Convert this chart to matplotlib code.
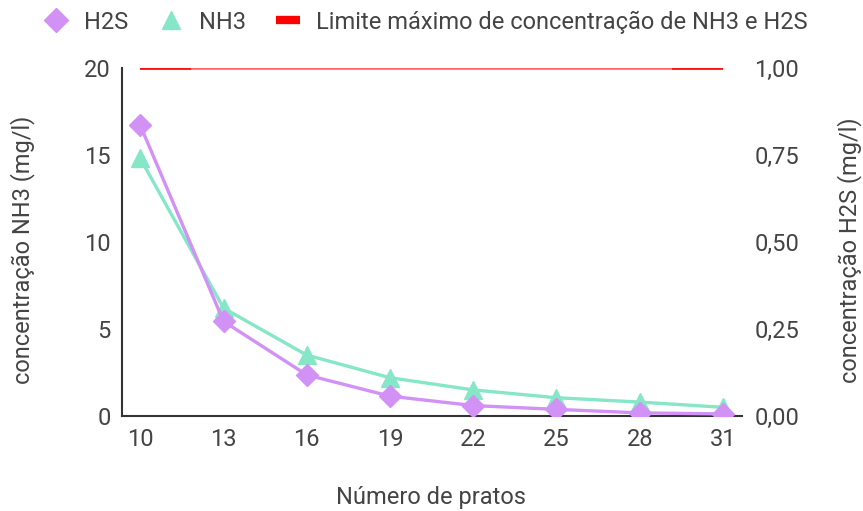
import matplotlib.pyplot as plt
import matplotlib.lines as mlines
from matplotlib.ticker import FuncFormatter
import numpy as np

# Número de pratos e concentrações
pratos = [10, 13, 16, 19, 22, 25, 28, 31]
nh3 = [14.8, 6.2, 3.5, 2.2, 1.5, 1.05, 0.8, 0.5]
h2s = [0.835, 0.272, 0.118, 0.057, 0.030, 0.019, 0.009, 0.006]
limite_nh3 = 20
limite_h2s = 1.0

cor_h2s = "#d291f5"
cor_nh3 = "#86e6c8"
cor_limite = "#ff0000"
cor_texto = "#444444"
fs = 17

plt.rcParams["font.family"] = ["Roboto", "DejaVu Sans"]

fig = plt.figure(figsize=(8.63, 5.11), dpi=100)
ax = fig.add_axes([122 / 863, 1 - 416 / 511, 620 / 863, 348 / 511])
ax2 = ax.twinx()

x = np.arange(len(pratos))

# limite máximo (linha clara com trechos mais fortes nas pontas)
ax.plot([x[0], x[-1]], [limite_nh3, limite_nh3], color=cor_limite, alpha=0.6,
        lw=2.6, solid_capstyle="butt", zorder=2)
ax.plot([x[0], x[0] + 0.61], [limite_nh3, limite_nh3], color=cor_limite, alpha=0.85,
        lw=2.6, solid_capstyle="butt", zorder=2)
ax2.plot([x[-1] - 0.61, x[-1]], [limite_h2s, limite_h2s], color=cor_limite, alpha=0.85,
         lw=2.6, solid_capstyle="butt", zorder=2)

ax.plot(x, nh3, color=cor_nh3, lw=2.4, marker="^", ms=13, zorder=3)
ax2.plot(x, h2s, color=cor_h2s, lw=2.4, marker="D", ms=11, zorder=4)

ax.set_xlim(-0.22, 7.23)
ax.set_ylim(0, 20)
ax2.set_ylim(0, 1.0)
ax.set_xticks(x)
ax.set_xticklabels([str(p) for p in pratos])
ax.set_yticks([0, 5, 10, 15, 20])
ax2.set_yticks([0, 0.25, 0.5, 0.75, 1.0])
ax2.yaxis.set_major_formatter(FuncFormatter(lambda v, p: f"{v:.2f}".replace(".", ",")))

for a in (ax, ax2):
    for s in ("top", "right"):
        a.spines[s].set_visible(False)
    a.tick_params(length=0, labelsize=fs, labelcolor=cor_texto)
ax2.spines["left"].set_visible(False)
ax2.spines["bottom"].set_visible(False)
ax.spines["left"].set_color("#333333")
ax.spines["bottom"].set_color("#333333")
ax.spines["left"].set_linewidth(1.5)
ax.spines["bottom"].set_linewidth(1.5)
ax.tick_params(axis="x", pad=9)
ax.tick_params(axis="y", pad=8)
ax2.tick_params(axis="y", pad=9)

fig.text(23 / 863, 1 - 250 / 511, "concentração NH3 (mg/l)", rotation=90,
         ha="center", va="center", fontsize=fs, color=cor_texto)
fig.text(850 / 863, 1 - 250 / 511, "concentração H2S (mg/l)", rotation=90,
         ha="center", va="center", fontsize=fs, color=cor_texto)
fig.text(431 / 863, 1 - 497 / 511, "Número de pratos", ha="center", va="center",
         fontsize=fs, color=cor_texto)

handles = [
    mlines.Line2D([], [], color=cor_h2s, marker="D", ms=12, ls="none"),
    mlines.Line2D([], [], color=cor_nh3, marker="^", ms=13, ls="none"),
    mlines.Line2D([], [], color=cor_limite, lw=6, solid_capstyle="butt"),
]
labels = ["H2S", "NH3", "Limite máximo de concentração de NH3 e H2S"]
leg = fig.legend(handles, labels, loc="center", bbox_to_anchor=(426 / 863, 1 - 22 / 511),
                 ncol=3, frameon=False, fontsize=fs, handlelength=1.0,
                 handletextpad=0.68, columnspacing=1.3, labelcolor=cor_texto)

fig.savefig("out.png", dpi=100)
